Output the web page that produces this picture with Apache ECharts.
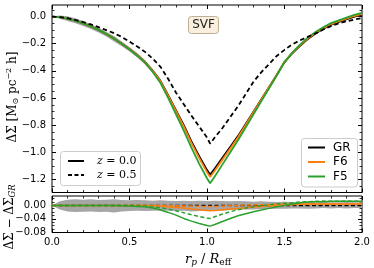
<!DOCTYPE html>
<html><head><meta charset="utf-8">
<script src="https://cdn.jsdelivr.net/npm/echarts@6/dist/echarts.min.js"></script>
<style>html,body{margin:0;padding:0;background:#fff}#c{width:374px;height:268px}</style>
</head><body><div id="c"></div>
<script>
// ---------- data ----------
const rp = [0,0.05,0.1,0.15,0.2,0.25,0.3,0.35,0.4,0.45,0.5,0.55,0.6,0.65,0.7,0.75,0.8,0.85,0.9,0.95,1.0,1.02,1.05,1.1,1.15,1.2,1.25,1.3,1.35,1.4,1.45,1.5,1.55,1.6,1.65,1.7,1.75,1.8,1.85,1.9,1.95,2.0];
// top panel: Delta Sigma
const grZ0  = [0,-0.005,-0.015,-0.03,-0.05,-0.073,-0.098,-0.128,-0.162,-0.2,-0.24,-0.285,-0.335,-0.4,-0.475,-0.58,-0.69,-0.8,-0.92,-1.03,-1.13,-1.165,-1.12,-1.04,-0.96,-0.88,-0.79,-0.7,-0.61,-0.52,-0.43,-0.335,-0.27,-0.215,-0.165,-0.125,-0.09,-0.06,-0.04,-0.02,0.0,0.015];
const f6Z0  = [0,-0.005,-0.015,-0.03,-0.05,-0.073,-0.098,-0.128,-0.162,-0.2,-0.24,-0.285,-0.335,-0.401,-0.477,-0.584,-0.696,-0.808,-0.931,-1.043,-1.145,-1.181,-1.135,-1.053,-0.971,-0.889,-0.797,-0.705,-0.613,-0.521,-0.43,-0.334,-0.268,-0.212,-0.162,-0.121,-0.086,-0.056,-0.036,-0.016,0.004,0.019];
const f5Z0  = [0,-0.005,-0.015,-0.03,-0.05,-0.073,-0.098,-0.128,-0.162,-0.201,-0.242,-0.288,-0.339,-0.408,-0.489,-0.601,-0.719,-0.839,-0.967,-1.084,-1.19,-1.227,-1.177,-1.088,-0.999,-0.911,-0.815,-0.719,-0.624,-0.529,-0.434,-0.335,-0.266,-0.207,-0.155,-0.114,-0.079,-0.048,-0.028,-0.008,0.012,0.027];
const grZ05 = [0,-0.004,-0.012,-0.025,-0.04,-0.058,-0.078,-0.1,-0.122,-0.15,-0.185,-0.22,-0.26,-0.31,-0.37,-0.46,-0.56,-0.645,-0.73,-0.81,-0.89,-0.935,-0.89,-0.82,-0.74,-0.66,-0.57,-0.48,-0.41,-0.35,-0.29,-0.245,-0.205,-0.175,-0.15,-0.125,-0.095,-0.07,-0.05,-0.035,-0.022,-0.012];
// GR scatter (grey band), offsets from GR
const bandLo = [0,-0.012,-0.018,-0.02,-0.019,-0.018,-0.02,-0.019,-0.021,-0.018,-0.017,-0.016,-0.017,-0.016,-0.015,-0.016,-0.017,-0.016,-0.018,-0.017,-0.016,-0.016,-0.015,-0.016,-0.014,-0.013,-0.012,-0.012,-0.011,-0.011,-0.01,-0.01,-0.009,-0.009,-0.01,-0.009,-0.008,-0.009,-0.008,-0.009,-0.008,-0.008];
const bandHi = [0,0.012,0.017,0.018,0.017,0.018,0.016,0.017,0.018,0.016,0.015,0.016,0.015,0.014,0.015,0.014,0.013,0.014,0.013,0.014,0.013,0.013,0.014,0.013,0.012,0.013,0.012,0.011,0.012,0.011,0.01,0.011,0.01,0.009,0.01,0.009,0.01,0.009,0.009,0.01,0.009,0.009];
// bottom panel: Delta Sigma - Delta Sigma_GR
const dF6Z0  = [0,0,0,0,0,0,0,0,0,0,0,0,0,-0.001,-0.002,-0.004,-0.006,-0.008,-0.011,-0.013,-0.015,-0.016,-0.015,-0.013,-0.011,-0.009,-0.007,-0.005,-0.003,-0.001,0,0.001,0.002,0.003,0.003,0.004,0.004,0.004,0.004,0.004,0.004,0.004];
const dF5Z0  = [0,0,0,0,0,0,0,0,0,-0.001,-0.002,-0.003,-0.004,-0.008,-0.014,-0.021,-0.029,-0.039,-0.047,-0.054,-0.06,-0.062,-0.057,-0.048,-0.039,-0.031,-0.025,-0.019,-0.014,-0.009,-0.004,0,0.004,0.008,0.01,0.011,0.011,0.012,0.012,0.012,0.012,0.012];
const dF6Z05 = [0,0,0,0,0,0,0,0,0,0,0,0,0,0,0,-0.001,-0.001,-0.002,-0.002,-0.003,-0.003,-0.003,-0.003,-0.002,-0.001,0,0.001,0.001,0.002,0.002,0.003,0.003,0.003,0.004,0.004,0.004,0.004,0.004,0.004,0.004,0.004,0.004];
const dF5Z05 = [0,0,0,0,0,0,0,0,0,0,0,-0.001,-0.002,-0.004,-0.007,-0.011,-0.016,-0.022,-0.028,-0.033,-0.038,-0.039,-0.034,-0.026,-0.019,-0.013,-0.008,-0.004,-0.001,0.002,0.004,0.006,0.008,0.01,0.011,0.012,0.013,0.012,0.012,0.013,0.012,0.012];
const zeroX = [0, 2];
const zeroY = [0, 0];
// ticks / labels
const topYTicks = [0, -0.2, -0.4, -0.6, -0.8, -1.0, -1.2];
const botYTicks = [0, -0.04, -0.08];
const modelNames = ['GR', 'F6', 'F5'];
const zNames = ['0.0', '0.5'];
const colors = { GR: '#000000', F6: '#ff7f0e', F5: '#2ca02c' };

// ---------- helpers ----------
const topMinor = [0.05]; for (let k = 1; k <= 25; k++) { if (k % 4 !== 0) topMinor.push(+(-0.05 * k).toFixed(2)); }
const botMinor = []; for (let k = -8; k <= 2; k++) { if (k % 4 !== 0) botMinor.push(+(k * 0.01).toFixed(2)); }
const pts = (xs, ys) => xs.map((x, i) => [x, ys[i]]);
const minusFmt = (d) => (v) => (v < -1e-9 ? '\u2212' : '') + Math.abs(v).toFixed(d);

const TL = { color: '#000', width: 1 };
function xAx(grid, pos, labels) {
  return {
    type: 'value', gridIndex: grid, position: pos, min: 0, max: 2, interval: 0.5,
    axisLine: { show: false, onZero: false }, splitLine: { show: false },
    axisTick: { show: true, inside: true, length: 4, lineStyle: TL },
    minorTick: { show: true, splitNumber: 5, length: 2.5, lineStyle: { color: '#000', width: 0.8 } },
    axisLabel: labels ? { show: true, margin: 5, fontSize: 10, fontFamily: 'DejaVu Sans', color: '#000', formatter: (v) => v.toFixed(1) } : { show: false }
  };
}
function yAx(grid, pos, min, max, vals, len, labelDigits) {
  return {
    type: 'value', gridIndex: grid, position: pos, min: min, max: max,
    axisLine: { show: false, onZero: false }, splitLine: { show: false },
    axisTick: { show: true, inside: true, length: len, customValues: vals, lineStyle: { color: '#000', width: len > 3 ? 1 : 0.8 } },
    axisLabel: labelDigits != null ? { show: true, customValues: vals, margin: 6, fontSize: 10, fontFamily: 'DejaVu Sans', color: '#000', formatter: minusFmt(labelDigits) } : { show: false }
  };
}

const mctx = document.createElement('canvas').getContext('2d');
function richRun(parts, px, py, rot, align, fam) {
  let x = 0; const kids = [];
  for (const p of parts) {
    const [t, size, it, dy, family] = p;
    const font = (it ? 'italic ' : '') + size + 'px "' + (family || fam || 'DejaVu Serif') + '"';
    mctx.font = font;
    const w = mctx.measureText(t).width;
    kids.push({ type: 'text', x: x, y: dy || 0, z: 100,
      style: { text: t, font: font, fill: '#000', align: 'left', verticalAlign: 'middle', textAlign: 'left', textVerticalAlign: 'middle' } });
    x += w;
  }
  if (align !== 'left') kids.forEach(k => { k.x -= x / 2; });
  return { type: 'group', x: px, y: py, rotation: rot || 0, z: 100, children: kids };
}

// band as a custom series: one polygon through the library's coordinate system
function bandSeries(axes, base, lo, hi) {
  return Object.assign({
    type: 'custom', silent: true, clip: true,
    data: rp.map((x, i) => [x, base ? base[i] + lo[i] : lo[i], base ? base[i] + hi[i] : hi[i]]),
    encode: { x: 0, y: [1, 2] },
    renderItem: function (params, api) {
      if (params.dataIndex !== 0) return null;
      const n = rp.length, up = [], dn = [];
      for (let i = 0; i < n; i++) {
        const b = base ? base[i] : 0;
        up.push(api.coord([rp[i], b + hi[i]]));
        dn.push(api.coord([rp[i], b + lo[i]]));
      }
      return { type: 'polygon', shape: { points: up.concat(dn.reverse()) }, style: { fill: '#a6a6a6', stroke: null } };
    }
  }, axes);
}

// ---------- series ----------
const series = [];
const G0 = { xAxisIndex: 0, yAxisIndex: 0 };
const G1 = { xAxisIndex: 2, yAxisIndex: 4 };
series.push(bandSeries(G0, grZ0, bandLo, bandHi));
series.push(Object.assign({ type: 'line', name: 'GR', data: pts(rp, grZ0), symbol: 'none', lineStyle: { color: colors.GR, width: 1.8 } }, G0));
series.push(Object.assign({ type: 'line', name: 'F6', data: pts(rp, f6Z0), symbol: 'none', lineStyle: { color: colors.F6, width: 1.8 } }, G0));
series.push(Object.assign({ type: 'line', name: 'F5', data: pts(rp, f5Z0), symbol: 'none', lineStyle: { color: colors.F5, width: 1.8 } }, G0));
series.push(Object.assign({ type: 'line', name: 'GR z=0.5', data: pts(rp, grZ05), symbol: 'none', lineStyle: { color: colors.GR, width: 1.8, type: [4.5, 3] } }, G0));
series.push(bandSeries(G1, null, bandLo, bandHi));
series.push(Object.assign({ type: 'line', name: 'dGR', data: pts(zeroX, zeroY), symbol: 'none', lineStyle: { color: colors.GR, width: 1.5, type: [4, 2.5] } }, G1));
series.push(Object.assign({ type: 'line', name: 'dF6', data: pts(rp, dF6Z0), symbol: 'none', lineStyle: { color: colors.F6, width: 1.5 } }, G1));
series.push(Object.assign({ type: 'line', name: 'dF6z05', data: pts(rp, dF6Z05), symbol: 'none', lineStyle: { color: colors.F6, width: 1.5, type: [4, 2.5] } }, G1));
series.push(Object.assign({ type: 'line', name: 'dF5', data: pts(rp, dF5Z0), symbol: 'none', lineStyle: { color: colors.F5, width: 1.5 } }, G1));
series.push(Object.assign({ type: 'line', name: 'dF5z05', data: pts(rp, dF5Z05), symbol: 'none', lineStyle: { color: colors.F5, width: 1.5, type: [4, 2.5] } }, G1));

// ---------- graphics: legends, labels, titles ----------
const graphic = [];
graphic.push({ type: 'rect', z: 100, shape: { x: 60.5, y: 151.5, width: 80, height: 34, r: 3 }, style: { fill: 'rgba(255,255,255,0.85)', stroke: '#cccccc', lineWidth: 1 } });
[161, 175].forEach((yy, i) => {
  graphic.push({ type: 'line', z: 101, shape: { x1: 68, y1: yy, x2: 84, y2: yy }, style: { stroke: '#000', lineWidth: 2, lineDash: i ? [4, 2.5] : null } });
  graphic.push(richRun([['z', 11, true], [' = ' + zNames[i], 11, false]], 97, yy, 0, 'left'));
});
graphic.push({ type: 'rect', z: 100, shape: { x: 301.5, y: 138.5, width: 56, height: 48.5, r: 3 }, style: { fill: 'rgba(255,255,255,0.85)', stroke: '#cccccc', lineWidth: 1 } });
[147.5, 162, 176.5].forEach((yy, i) => {
  graphic.push({ type: 'line', z: 101, shape: { x1: 308, y1: yy, x2: 325, y2: yy }, style: { stroke: colors[modelNames[i]], lineWidth: 2 } });
  graphic.push({ type: 'text', z: 101, x: 333, y: yy, style: { text: modelNames[i], font: '12px "DejaVu Sans"', fill: '#000', align: 'left', verticalAlign: 'middle', textAlign: 'left', textVerticalAlign: 'middle' } });
});
graphic.push({ type: 'rect', z: 100, shape: { x: 188.5, y: 16.5, width: 30, height: 17, r: 3 }, style: { fill: '#f9efdc', stroke: '#bcae98', lineWidth: 1 } });
graphic.push({ type: 'text', z: 101, x: 203.5, y: 25.2, style: { text: 'SVF', font: '12px "DejaVu Sans"', fill: '#222', align: 'center', verticalAlign: 'middle', textAlign: 'center', textVerticalAlign: 'middle' } });
graphic.push(richRun([['r', 13, true], ['p', 9, true, 3], [' / ', 13, false], ['R', 13, true], ['eff', 9, false, 3]], 208, 259.5, 0, 'center'));
graphic.push(richRun([['\u0394\u03a3 [M', 12], ['\u2299', 8, false, 3], [' pc', 12], ['\u22122', 8, false, -4], [' h]', 12]], 13, 97, Math.PI / 2, 'center'));
graphic.push(richRun([['\u0394\u03a3 \u2212 \u0394\u03a3', 12], ['GR', 8.5, true, 3]], 10, 217, Math.PI / 2, 'center'));

const option = {
  animation: false,
  backgroundColor: '#fff',
  grid: [
    { left: 52, right: 12, top: 5, height: 187.5, show: true, borderColor: '#000', borderWidth: 1, backgroundColor: 'transparent' },
    { left: 52, right: 12, top: 196, height: 36.5, show: true, borderColor: '#000', borderWidth: 1, backgroundColor: 'transparent' }
  ],
  xAxis: [xAx(0, 'bottom', false), xAx(0, 'top', false), xAx(1, 'bottom', true), xAx(1, 'top', false)],
  yAxis: [
    yAx(0, 'left', -1.295, 0.085, topYTicks, 4, 1), yAx(0, 'left', -1.295, 0.085, topMinor, 2.5, null),
    yAx(0, 'right', -1.295, 0.085, topYTicks, 4, null), yAx(0, 'right', -1.295, 0.085, topMinor, 2.5, null),
    yAx(1, 'left', -0.081, 0.028, botYTicks, 4, 2), yAx(1, 'left', -0.081, 0.028, botMinor, 2.5, null),
    yAx(1, 'right', -0.081, 0.028, botYTicks, 4, null), yAx(1, 'right', -0.081, 0.028, botMinor, 2.5, null)
  ],
  series: series,
  graphic: graphic
};
echarts.init(document.getElementById('c'), null, { renderer: 'canvas' }).setOption(option);
</script></body></html>
